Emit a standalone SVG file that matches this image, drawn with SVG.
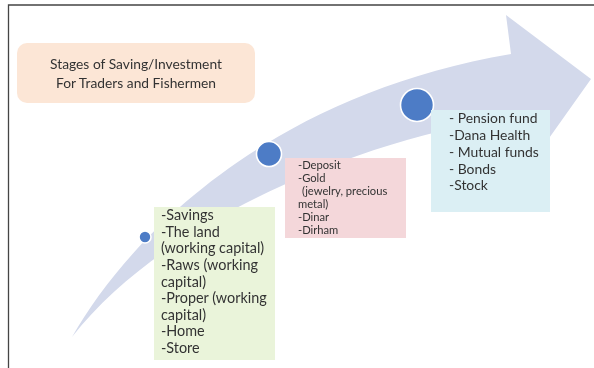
<svg xmlns="http://www.w3.org/2000/svg" width="594" height="368" viewBox="0 0 594 368">
<style>
text{font-family:Lato,"Open Sans",sans-serif;fill:#333}
.t{font-size:13.8px;text-anchor:middle}
.g{font-size:14.4px}
.p{font-size:11.2px}
.c{font-size:13.9px}
.dot{fill:#4d7cc6;stroke:#fff;stroke-width:1.6}
</style>
<defs><filter id="b" x="-5%" y="-5%" width="110%" height="110%"><feGaussianBlur stdDeviation="0.45"/></filter></defs>
<g filter="url(#b)">
<rect width="594" height="368" fill="#fff"/>
<path id="frame" d="M8.500 368V5H594" fill="none" stroke="#444" stroke-width="1.300"/>
<g id="connectors">
<path id="arrow" d="M72 337C130 235 270 95 511 54L506 15L591 79L530 165L518 117C400 130 175 205 72 337Z" fill="#d3d9eb"/>
</g>
<g id="title"><rect x="17" y="43" width="238" height="60" rx="10" fill="#fce6d6"/>
<text class="t" x="136" y="69">Stages of Saving/Investment</text>
<text class="t" x="136" y="88">For Traders and Fishermen</text></g>
<g id="stage1"><circle class="dot" cx="145" cy="237" r="6"/></g>
<g id="stage2"><circle class="dot" cx="269" cy="154" r="12.500"/></g>
<g id="stage3"><circle class="dot" cx="417" cy="105" r="16.500"/></g>
<g id="box-green"><rect x="154" y="207" width="121" height="153" fill="#eaf4da"/>
<text class="g" x="161" y="220">-Savings</text>
<text class="g" x="161" y="236.500">-The land</text>
<text class="g" x="161" y="253">(working capital)</text>
<text class="g" x="161" y="270">-Raws (working</text>
<text class="g" x="161" y="286.500">capital)</text>
<text class="g" x="161" y="303">-Proper (working</text>
<text class="g" x="161" y="319.500">capital)</text>
<text class="g" x="161" y="336">-Home</text>
<text class="g" x="161" y="352.500">-Store</text></g>
<g id="box-pink"><rect x="285" y="158" width="121" height="80" fill="#f4d7da"/>
<text class="p" x="298" y="169">-Deposit</text>
<text class="p" x="298" y="182">-Gold</text>
<text class="p" x="302" y="195">(jewelry, precious</text>
<text class="p" x="298" y="208">metal)</text>
<text class="p" x="298" y="221">-Dinar</text>
<text class="p" x="298" y="234">-Dirham</text></g>
<g id="box-cyan"><rect x="431" y="110" width="119" height="102" fill="#dbeff4"/>
<text class="c" x="449" y="123">- Pension fund</text>
<text class="c" x="449" y="140">-Dana Health</text>
<text class="c" x="449" y="157">- Mutual funds</text>
<text class="c" x="449" y="174">- Bonds</text>
<text class="c" x="449" y="190">-Stock</text></g>
</g>
</svg>
